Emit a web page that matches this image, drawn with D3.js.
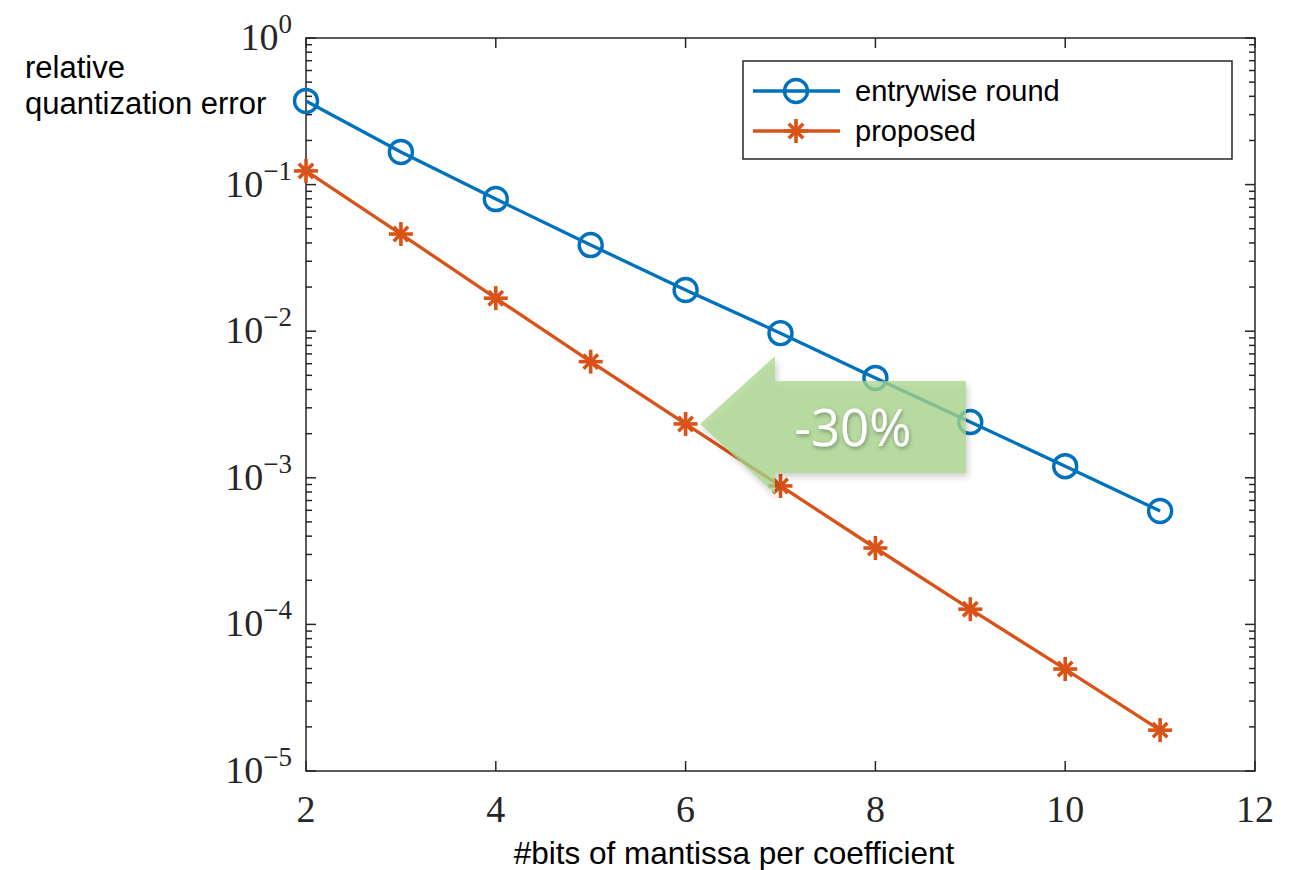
<!DOCTYPE html>
<html>
<head>
<meta charset="utf-8">
<script src="https://cdn.jsdelivr.net/npm/d3@7"></script>
<style>
  body { margin: 0; background: #fff; }
  svg { display: block; }
</style>
</head>
<body>
<div id="stage_id"></div>
<script>
// data
var bits = [2, 3, 4, 5, 6, 7, 8, 9, 10, 11];
var errEntrywise = [0.372, 0.167, 0.0797, 0.0387, 0.0191, 0.0097, 0.0048, 0.0024, 0.0012, 0.000594];
var errProposed = [0.124, 0.046, 0.0168, 0.0062, 0.00233, 0.00088, 0.000332, 0.000127, 0.0000496, 0.000019];
var xTicks = [2, 4, 6, 8, 10, 12];
var yExponents = [0, -1, -2, -3, -4, -5];
var seriesNames = ["entrywise round", "proposed"];
var seriesColors = ["#0072BD", "#D95319"];

var W = 1301, H = 870;
var margin = {top: 38, right: 46, bottom: 99, left: 306};
var width = W - margin.left - margin.right,
    height = H - margin.top - margin.bottom;

var svg = d3.select("#stage_id").append("svg")
  .attr("width", W).attr("height", H);

var defs = svg.append("defs");
var shadow = defs.append("filter").attr("id", "shadow")
  .attr("x", "-20%").attr("y", "-20%").attr("width", "140%").attr("height", "150%");
shadow.append("feDropShadow").attr("dx", 2).attr("dy", 4).attr("stdDeviation", 3)
  .attr("flood-color", "#000").attr("flood-opacity", 0.25);
var tshadow = defs.append("filter").attr("id", "tshadow");
tshadow.append("feDropShadow").attr("dx", 1).attr("dy", 2).attr("stdDeviation", 2)
  .attr("flood-color", "#000").attr("flood-opacity", 0.35);

var g = svg.append("g").attr("transform", "translate(" + margin.left + "," + margin.top + ")");

var xScale = d3.scaleLinear().domain([2, 12]).range([0, width]);
var yScale = d3.scaleLog().domain([1e-5, 1]).range([height, 0]);

var tickCol = "#262626";
var serif = "'Liberation Serif', 'DejaVu Serif', serif";
var sans = "'Liberation Sans', Arial, Helvetica, sans-serif";

// minor ticks (log)
var minor = [];
for (var e = -5; e < 0; e++) {
  for (var m = 2; m <= 9; m++) minor.push(m * Math.pow(10, e));
}

// ticks on left & right (inward)
[0, width].forEach(function(x0, side) {
  var dir = side === 0 ? 1 : -1;
  g.selectAll(".ymaj" + side).data(yExponents).enter().append("line")
    .attr("x1", x0).attr("x2", x0 + dir * 10)
    .attr("y1", function(d) { return yScale(Math.pow(10, d)); })
    .attr("y2", function(d) { return yScale(Math.pow(10, d)); })
    .attr("stroke", tickCol).attr("stroke-width", 1.5);
  g.selectAll(".ymin" + side).data(minor).enter().append("line")
    .attr("x1", x0).attr("x2", x0 + dir * 6)
    .attr("y1", function(d) { return yScale(d); })
    .attr("y2", function(d) { return yScale(d); })
    .attr("stroke", tickCol).attr("stroke-width", 1.5);
});

// ticks on bottom & top
[height, 0].forEach(function(y0, side) {
  var dir = side === 0 ? -1 : 1;
  g.selectAll(".xmaj" + side).data(xTicks).enter().append("line")
    .attr("x1", function(d) { return xScale(d); })
    .attr("x2", function(d) { return xScale(d); })
    .attr("y1", y0).attr("y2", y0 + dir * 10)
    .attr("stroke", tickCol).attr("stroke-width", 1.5);
});

// axes box
g.append("rect").attr("width", width).attr("height", height)
  .attr("fill", "none").attr("stroke", tickCol).attr("stroke-width", 1.5);

// x tick labels
g.selectAll(".xlab").data(xTicks).enter().append("text")
  .attr("x", function(d) { return xScale(d); })
  .attr("y", height + 51)
  .attr("text-anchor", "middle")
  .style("font-family", serif).style("font-size", "38px").attr("fill", tickCol)
  .text(function(d) { return d; });

// y tick labels 10^k
var ylab = g.selectAll(".ylab").data(yExponents).enter().append("text")
  .attr("x", -14)
  .attr("y", function(d) { return yScale(Math.pow(10, d)) + 12; })
  .attr("text-anchor", "end")
  .style("font-family", serif).attr("fill", tickCol);
ylab.append("tspan").style("font-size", "38px").text("10");
ylab.append("tspan").style("font-size", "27px").attr("dy", -17)
  .text(function(d) { return d === 0 ? "0" : "\u2212" + (-d); });

// lines
var line = d3.line()
  .x(function(d) { return xScale(d[0]); })
  .y(function(d) { return yScale(d[1]); });

var series = [d3.zip(bits, errEntrywise), d3.zip(bits, errProposed)];

g.selectAll(".series").data(series).enter().append("path")
  .attr("d", line).attr("fill", "none")
  .attr("stroke", function(d, i) { return seriesColors[i]; })
  .attr("stroke-width", 3.3);

function drawCircle(sel, cx, cy) {
  sel.append("circle").attr("cx", cx).attr("cy", cy).attr("r", 11.5)
    .attr("fill", "none").attr("stroke", seriesColors[0]).attr("stroke-width", 3.4);
}
function drawStar(sel, cx, cy) {
  var r = 12;
  var p = sel.append("g").attr("transform", "translate(" + cx + "," + cy + ")")
    .attr("stroke", seriesColors[1]).attr("stroke-width", 3.6).attr("stroke-linecap", "butt");
  [0, 45, 90, 135].forEach(function(a) {
    var rad = a * Math.PI / 180;
    var dx = r * Math.cos(rad), dy = r * Math.sin(rad);
    if (a === 45 || a === 135) { dx *= 0.85; dy *= 0.85; }
    p.append("line").attr("x1", -dx).attr("y1", -dy).attr("x2", dx).attr("y2", dy);
  });
}

series[0].forEach(function(d) { drawCircle(g, xScale(d[0]), yScale(d[1])); });
series[1].forEach(function(d) { drawStar(g, xScale(d[0]), yScale(d[1])); });

// annotation arrow (-30%)
var arrow = svg.append("g").attr("filter", "url(#shadow)");
arrow.append("path")
  .attr("d", "M700,424 L775,356 L775,381 L966,381 L966,473 L775,473 L775,494 Z")
  .attr("fill", "#a9d68c").attr("fill-opacity", 0.75);
svg.append("text")
  .attr("x", 853).attr("y", 446)
  .attr("text-anchor", "middle")
  .attr("filter", "url(#tshadow)")
  .style("font-family", "'Open Sans', 'Noto Sans', sans-serif")
  .style("font-size", "51px").attr("fill", "#fff")
  .text("-30%");

// legend
var lg = svg.append("g").attr("transform", "translate(743,61)");
lg.append("rect").attr("width", 489).attr("height", 98)
  .attr("fill", "#fff").attr("stroke", tickCol).attr("stroke-width", 1.5);
seriesNames.forEach(function(name, i) {
  var yy = 30 + i * 40;
  lg.append("line").attr("x1", 10).attr("x2", 97).attr("y1", yy).attr("y2", yy)
    .attr("stroke", seriesColors[i]).attr("stroke-width", 3.3);
  if (i === 0) drawCircle(lg, 53, yy); else drawStar(lg, 53, yy);
  lg.append("text").attr("x", 112).attr("y", yy + 10)
    .style("font-family", sans).style("font-size", "29px").attr("fill", "#000")
    .text(name);
});

// axis labels
var yl = svg.append("text").attr("x", 25).attr("y", 78)
  .style("font-family", sans).style("font-size", "31px").attr("fill", "#000");
yl.append("tspan").attr("x", 25).text("relative");
yl.append("tspan").attr("x", 25).attr("dy", 36).text("quantization error");

svg.append("text").attr("x", 734).attr("y", 864)
  .attr("text-anchor", "middle")
  .style("font-family", sans).style("font-size", "31.5px").attr("fill", "#000")
  .text("#bits of mantissa per coefficient");
</script>
</body>
</html>
